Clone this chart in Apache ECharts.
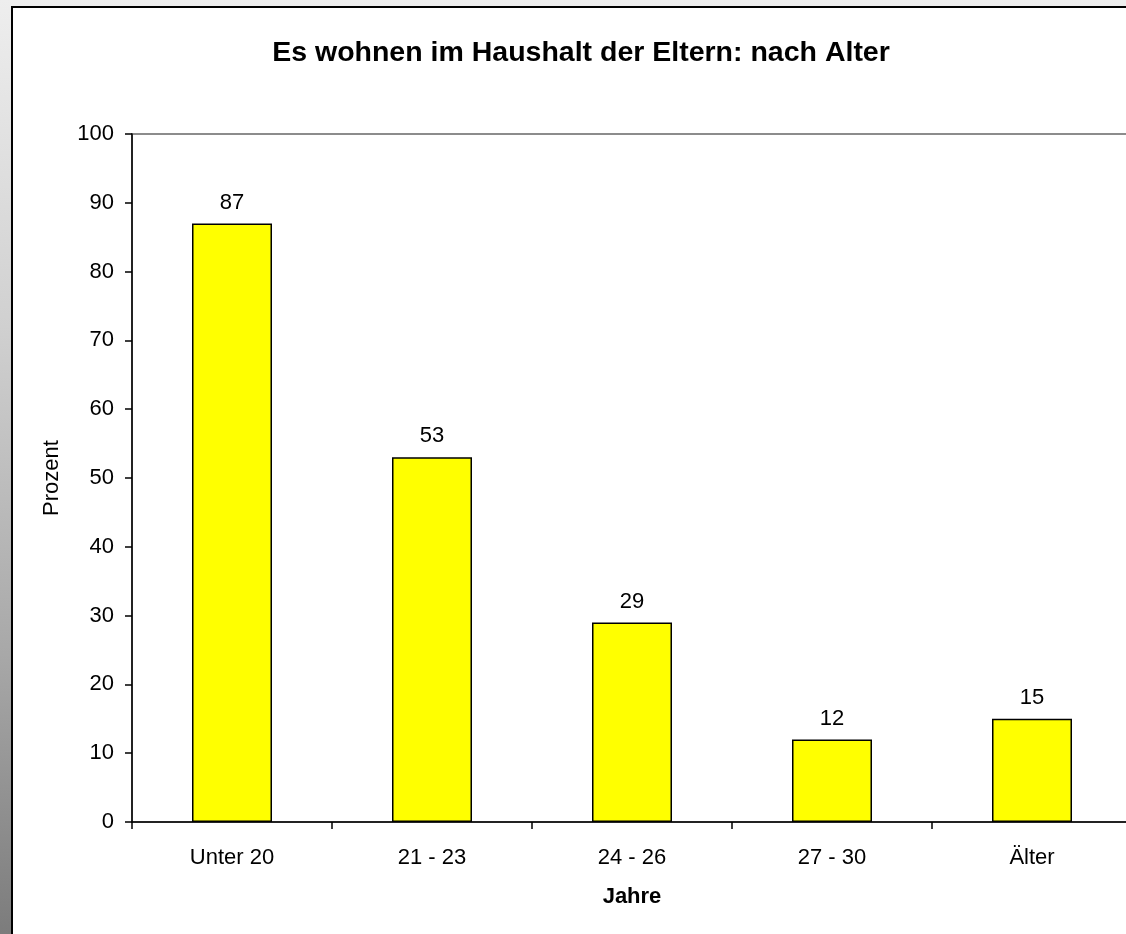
<!DOCTYPE html>
<html>
<head>
<meta charset="utf-8">
<script src="https://cdn.jsdelivr.net/npm/echarts@6/dist/echarts.min.js"></script>
<style>
  html, body { margin: 0; padding: 0; overflow: hidden; }
  body { width: 1126px; height: 934px; background: linear-gradient(to bottom, #eeeeee, #d0d0d0 35%, #a8a8a8 70%, #7c7c7c); position: relative; }
  #frame { position: absolute; left: 11px; top: 6px; width: 1300px; height: 1100px; background: #fff; border: 2px solid #000; }
  #chart { position: absolute; left: 0; top: 0; width: 1126px; height: 934px; }
</style>
</head>
<body>
<div id="frame"></div>
<div id="chart"></div>
<script>
var categories = ['Unter 20', '21 - 23', '24 - 26', '27 - 30', 'Älter'];
var values = [87, 53, 29, 12, 15];
var yTicks = [0, 10, 20, 30, 40, 50, 60, 70, 80, 90, 100];

var font = 'Liberation Sans, Arial, sans-serif';

var chart = echarts.init(document.getElementById('chart'), null, { renderer: 'canvas' });
var option = {
    backgroundColor: 'transparent',
    animation: false,
    title: {
        text: 'Es wohnen im Haushalt der Eltern: nach Alter',
        left: 576,
        textAlign: 'center',
        top: 34,
        textStyle: { fontFamily: font, fontSize: 28.5, fontWeight: 'bold', color: '#000' }
    },
    grid: {
        left: 132,
        top: 134,
        width: 1000,
        bottom: 112,
        outerBoundsMode: 'none',
        containLabel: false,
        show: true,
        borderColor: '#8c8c8c',
        borderWidth: 2,
        backgroundColor: 'transparent'
    },
    xAxis: {
        type: 'category',
        data: categories,
        name: 'Jahre',
        nameLocation: 'middle',
        nameGap: 64,
        nameTextStyle: { fontFamily: font, fontSize: 22, fontWeight: 'bold', color: '#000' },
        axisLine: { lineStyle: { color: '#000', width: 1.5 } },
        axisTick: { show: true, length: 7, alignWithLabel: false, lineStyle: { color: '#000', width: 1.5 } },
        axisLabel: { margin: 25, fontFamily: font, fontSize: 22, color: '#000' },
        splitLine: { show: false }
    },
    yAxis: {
        type: 'value',
        min: yTicks[0],
        max: yTicks[yTicks.length - 1],
        interval: 10,
        name: 'Prozent',
        nameLocation: 'middle',
        nameGap: 69,
        nameRotate: 90,
        nameTextStyle: { fontFamily: font, fontSize: 22, color: '#000' },
        axisLine: { show: true, lineStyle: { color: '#000', width: 1.5 } },
        axisTick: { show: true, length: 7, lineStyle: { color: '#000', width: 1.5 } },
        axisLabel: { margin: 18, fontFamily: font, fontSize: 22, color: '#000' },
        splitLine: { show: false }
    },
    series: [
        {
            type: 'bar',
            data: values,
            barCategoryGap: '60%',
            itemStyle: { color: '#ffff00', borderColor: '#000', borderWidth: 1.5 },
            label: {
                show: true,
                position: 'top',
                distance: 10,
                fontFamily: font,
                fontSize: 22,
                color: '#000'
            }
        }
    ]
};
chart.setOption(option);
</script>
</body>
</html>
